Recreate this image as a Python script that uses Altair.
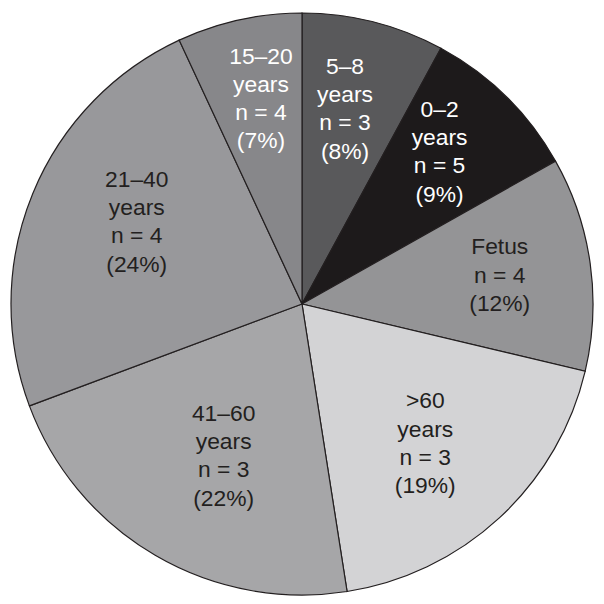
import altair as alt
import pandas as pd

# Slices, clockwise from 12 o'clock
categories = ["5–8 years", "0–2 years", "Fetus", ">60 years", "41–60 years", "21–40 years", "15–20 years"]
label_heads = ["5–8\nyears", "0–2\nyears", "Fetus", ">60\nyears", "41–60\nyears", "21–40\nyears", "15–20\nyears"]
n_values = [3, 5, 4, 3, 3, 4, 4]
percents = [8, 9, 12, 19, 22, 24, 7]
colors = ["#59595b", "#1d1a1b", "#949496", "#d3d3d5", "#a6a6a8", "#98989b", "#87878a"]

labels = [f"{h}\nn = {n}\n({p}%)" for h, n, p in zip(label_heads, n_values, percents)]
df = pd.DataFrame({
    "cat": categories,
    "pct": percents,
    "order": list(range(len(categories))),
    "label": labels,
})

LH = 28.5
# label nudges (styling only): extra x/y offset of each label block
nudges = {
    "5–8 years": (-5, -6),
    "0–2 years": (1, -13),
    "Fetus": (5, -1),
    ">60 years": (-9, -3),
    "41–60 years": (20, -16),
    "21–40 years": (15, -8),
    "15–20 years": (1, -15),
}
white_cats = ["5–8 years", "0–2 years", "15–20 years"]

base = alt.Chart(df).encode(
    theta=alt.Theta("pct:Q", stack=True),
    order=alt.Order("order:Q"),
)

arcs = base.mark_arc(radius=293, stroke="#231f20", strokeWidth=1.2).encode(
    color=alt.Color("cat:N", scale=alt.Scale(domain=categories, range=colors), legend=None),
)

layers = [arcs]
for cat, lab in zip(categories, labels):
    nl = lab.count("\n") + 1
    dx, dy = nudges[cat]
    layers.append(
        base.mark_text(
            radius=196, fontSize=23, font="Liberation Sans", lineBreak="\n", lineHeight=LH,
            align="center", baseline="middle", dx=dx, dy=dy - (nl - 1) * LH / 2,
            color="white" if cat in white_cats else "#231f20",
        ).encode(
            text=alt.condition(f"datum.cat == '{cat}'", alt.Text("label:N"), alt.value("")),
        )
    )

chart = alt.layer(*layers).properties(
    width=590, height=590, padding=0, background="white"
).configure_view(stroke=None)

chart.save("out.html", embed_options={"renderer": "svg", "actions": False})
